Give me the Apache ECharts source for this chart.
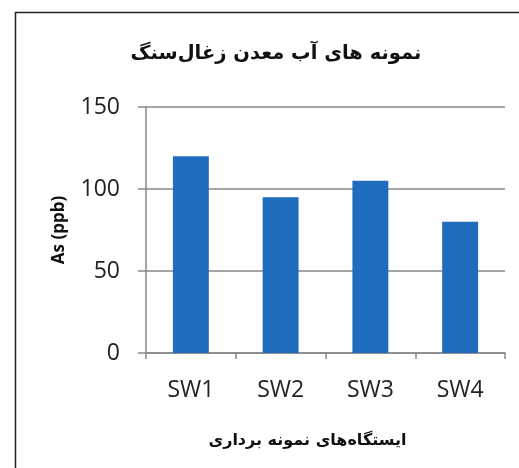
<!DOCTYPE html>
<html>
<head>
<meta charset="utf-8">
<script src="https://cdn.jsdelivr.net/npm/echarts@6/dist/echarts.min.js"></script>
<style>
  html, body { margin: 0; padding: 0; background: #fff; }
  #chart { width: 519px; height: 468px; }
</style>
</head>
<body>
<div id="chart"></div>
<script>
const categories = ['SW1', 'SW2', 'SW3', 'SW4'];
const asValues = [120, 95, 105, 80];
const yTicks = [0, 50, 100, 150];

const myChart = echarts.init(document.getElementById('chart'));

const option = {
  backgroundColor: '#fff',
  animation: false,
  graphic: [
    {
      // outer frame of the figure
      type: 'rect',
      shape: { x: 15.5, y: 12.5, width: 520, height: 470 },
      style: { fill: 'none', stroke: '#222', lineWidth: 1.5 },
      silent: true
    }
  ],
  title: {
    text: 'نمونه های آب معدن زغال‌سنگ',
    left: 271,
    top: 39,
    textAlign: 'center',
    textStyle: {
      fontFamily: 'DejaVu Sans',
      fontSize: 19.5,
      fontWeight: 'bold',
      color: '#111'
    }
  },
  grid: {
    left: 146,
    right: 14,
    top: 107,
    bottom: 115
  },
  xAxis: {
    type: 'category',
    data: categories,
    name: 'ایستگاه‌های نمونه برداری',
    nameLocation: 'middle',
    nameGap: 80,
    nameTextStyle: {
      fontFamily: 'DejaVu Sans',
      fontSize: 16,
      fontWeight: 'bold',
      color: '#111',
      padding: [0, 36, 0, 0]
    },
    axisLine: { lineStyle: { color: '#888', width: 1.5 } },
    axisTick: { show: true, length: 6, lineStyle: { color: '#888', width: 1.5 } },
    axisLabel: {
      margin: 26,
      fontFamily: 'Open Sans',
      fontSize: 23,
      color: '#222'
    }
  },
  yAxis: {
    type: 'value',
    min: yTicks[0],
    max: yTicks[yTicks.length - 1],
    interval: yTicks[1] - yTicks[0],
    name: 'As (ppb)',
    nameLocation: 'middle',
    nameGap: 78,
    nameRotate: 90,
    nameTextStyle: {
      fontFamily: 'Open Sans',
      fontSize: 17,
      fontWeight: 'bold',
      color: '#111'
    },
    axisLine: { show: true, lineStyle: { color: '#888', width: 1.5 } },
    axisTick: { show: true, length: 8, inside: false, lineStyle: { color: '#888', width: 1.5 } },
    axisLabel: {
      margin: 26,
      fontFamily: 'Open Sans',
      fontSize: 23,
      color: '#222'
    },
    splitLine: { show: true, lineStyle: { color: '#888', width: 1.5 } }
  },
  series: [
    {
      name: 'As',
      type: 'bar',
      data: asValues,
      barWidth: '40%',
      itemStyle: { color: '#1f6bbd' }
    }
  ]
};

myChart.setOption(option);
</script>
</body>
</html>
